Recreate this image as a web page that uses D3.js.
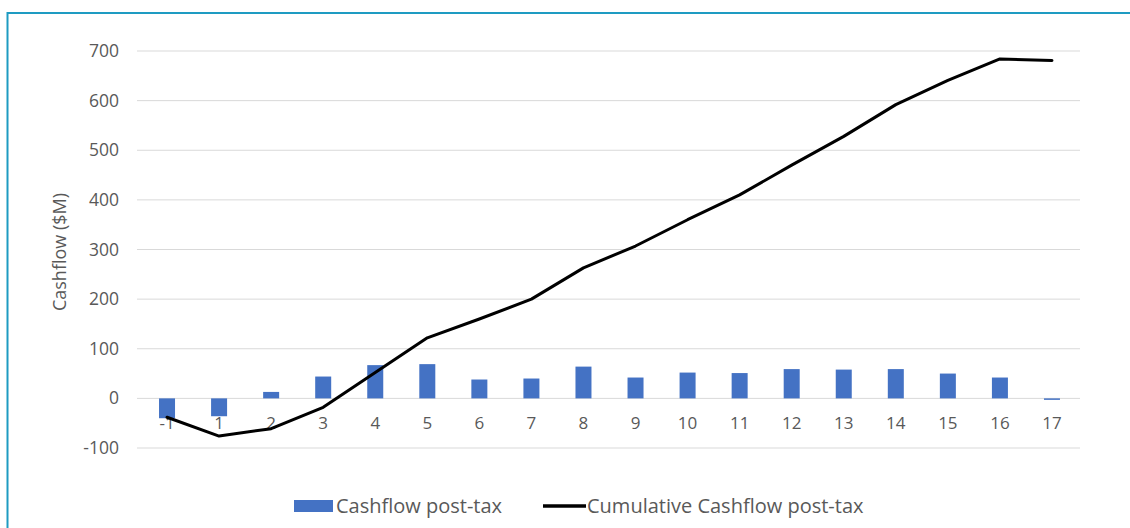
<!DOCTYPE html>
<html><head><meta charset="utf-8">
<script src="https://cdn.jsdelivr.net/npm/d3@7"></script>
<style>html,body{margin:0;padding:0;background:#fff;}svg{display:block;}</style>
</head><body>
<svg id="c" width="1130" height="528"></svg>
<script>
const categories = ["-1","1","2","3","4","5","6","7","8","9","10","11","12","13","14","15","16","17"];
const cashflow = [-40,-36,13,44,67,69,38,40,64,42,52,51,59,58,59,50,42,-3];
const cumulative = [-38,-76,-61,-18,52,122,160,200,263,307,360,410,470,528,592,641,684,681];
const yTicks = [-100,0,100,200,300,400,500,600,700];
const seriesNames = ["Cashflow post-tax","Cumulative Cashflow post-tax"];

const svg = d3.select("#c");
const font = "'Open Sans', Calibri, Carlito, sans-serif";
// border
svg.append("rect").attr("x",7.5).attr("y",13).attr("width",1130).attr("height",530)
  .attr("fill","none").attr("stroke","#1e9bc2").attr("stroke-width",2);

const x = d3.scaleBand().domain(categories).range([141,1078]);
const y = d3.scaleLinear().domain([-100,700]).range([448,51]);

// gridlines
svg.append("g").selectAll("line").data(yTicks).join("line")
  .attr("x1",137).attr("x2",1080)
  .attr("y1",d=>y(d)).attr("y2",d=>y(d))
  .attr("stroke","#d9d9d9").attr("stroke-width",1);

// y axis labels
const yAxis = svg.append("g").attr("transform","translate(119,0)")
  .call(d3.axisLeft(y).tickValues(yTicks).tickFormat(d=>String(d)).tickSize(0).tickPadding(0));
yAxis.select(".domain").remove();
yAxis.selectAll("text").attr("font-family",font).attr("font-size",17.5).attr("fill","#595959");

// x axis labels
const xAxis = svg.append("g").attr("transform","translate(0,417)")
  .call(d3.axisBottom(x).tickSize(0).tickPadding(0));
xAxis.select(".domain").remove();
xAxis.selectAll("text").attr("font-family",font).attr("font-size",17).attr("fill","#595959");

// bars
const bw = 16;
svg.append("g").selectAll("rect").data(categories).join("rect")
  .attr("x",(d)=>x(d)+x.bandwidth()/2-bw/2)
  .attr("width",bw)
  .attr("y",(d,i)=>y(Math.max(0,cashflow[i])))
  .attr("height",(d,i)=>Math.abs(y(cashflow[i])-y(0)))
  .attr("fill","#4472c4");

// line
const line = d3.line().x((d,i)=>x(categories[i])+x.bandwidth()/2).y(d=>y(d));
svg.append("path").datum(cumulative).attr("d",line)
  .attr("fill","none").attr("stroke","#000").attr("stroke-width",3)
  .attr("stroke-linejoin","round").attr("stroke-linecap","round");

// y title
svg.append("text").attr("transform","translate(66,252) rotate(-90)")
  .attr("text-anchor","middle").attr("font-family",font).attr("font-size",18)
  .attr("fill","#595959").text("Cashflow ($M)");

// legend
const lg = svg.append("g");
lg.append("rect").attr("x",294).attr("y",500).attr("width",39).attr("height",12).attr("fill","#4472c4");
lg.append("text").attr("x",336).attr("y",513).attr("font-family",font).attr("font-size",20)
  .attr("fill","#595959").text(seriesNames[0]);
lg.append("line").attr("x1",543).attr("x2",586).attr("y1",506).attr("y2",506)
  .attr("stroke","#000").attr("stroke-width",3.5);
lg.append("text").attr("x",587).attr("y",513).attr("font-family",font).attr("font-size",20)
  .attr("fill","#595959").text(seriesNames[1]);
</script>
</body></html>
